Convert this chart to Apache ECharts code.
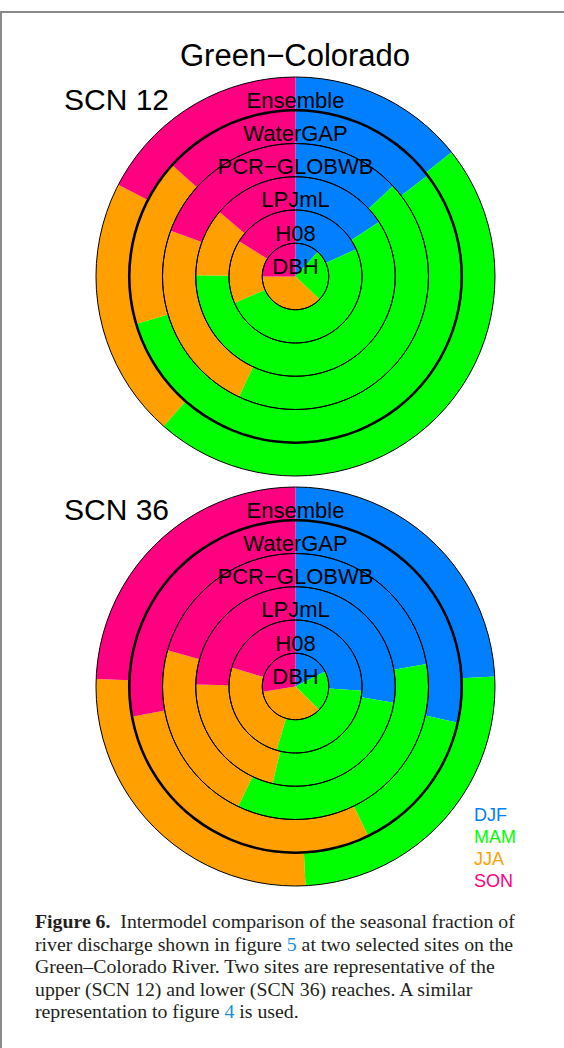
<!DOCTYPE html>
<html lang="en">
<head>
<meta charset="UTF-8">
<title>Green-Colorado</title>
<script src="https://cdn.jsdelivr.net/npm/echarts@6/dist/echarts.min.js"></script>
<style>
    body{margin:0;background:#fff;}
    #frame{position:absolute;left:0;top:11px;width:600px;height:1100px;border-left:2px solid #8a8a8a;border-top:2px solid #8a8a8a;}
    #chartmain{position:absolute;left:0;top:0;width:564px;height:900px;}
    #caption{position:absolute;left:35px;top:910px;width:525px;font-family:'Liberation Serif',serif;font-size:19.8px;line-height:22.6px;color:#231f20;white-space:nowrap;}
    #caption a{color:#1a8fd6;text-decoration:none;}
</style>
</head>
<body>
<div id="frame"></div>
<div id="chartmain"></div>
<div id="caption"><b>Figure 6.</b>&nbsp; Intermodel comparison of the seasonal fraction of<br>river discharge shown in figure <a>5</a> at two selected sites on the<br>Green–Colorado River. Two sites are representative of the<br>upper (SCN 12) and lower (SCN 36) reaches. A similar<br>representation to figure <a>4</a> is used.</div>
<script>
    // seasons, clockwise from 12 o'clock
    var seasons = ['DJF', 'MAM', 'JJA', 'SON'];
    var seasonColors = ['#0080ff', '#00ff00', '#ffa000', '#ff0080'];
    // rings from outside to inside
    var models = ['Ensemble', 'WaterGAP', 'PCR\u2212GLOBWB', 'LPJmL', 'H08', 'DBH'];

    // SCN 12 (upper reach), percent of annual discharge
    var scn12DJF = [14.3, 14.6, 13.1, 15.8, 18.3, 11.7];
    var scn12MAM = [47.2, 55.8, 43.9, 59.4, 50.2, 25.4];
    var scn12JJA = [21.1, 16.3, 23.6, 11.0, 15.4, 37.9];
    var scn12SON = [17.4, 13.3, 19.4, 13.8, 16.1, 25.0];

    // SCN 36 (lower reach)
    var scn36DJF = [24.2, 28.5, 22.3, 27.6, 26.0, 17.5];
    var scn36MAM = [25.0, 14.3, 34.8, 26.1, 28.6, 19.9];
    var scn36JJA = [26.4, 29.3, 22.3, 21.6, 25.0, 35.1];
    var scn36SON = [24.4, 27.9, 20.6, 24.7, 20.4, 27.5];

    var ringW = 33.25;
    var labelDrop = 9.5;   // names sit a little below the middle of their ring
    var font = 'Liberation Sans';

    function siteSeries(center, djf, mam, jja, son){
        var vals = [djf, mam, jja, son];
        var out = [];
        for(var i=0;i<models.length;i++){
            var k = models.length-1-i;
            var r0 = k*ringW, r1 = (k+1)*ringW;
            var data = [];
            for(var j=0;j<seasons.length;j++){
                data.push({name:seasons[j], value:vals[j][i], itemStyle:{color:seasonColors[j]}});
            }
            out.push({
                type:'pie', center:center, radius:[r0, r1],
                startAngle:90, clockwise:true, silent:true,
                label:{show:false}, labelLine:{show:false},
                itemStyle:{borderWidth:0},
                emphasis:{disabled:true},
                data:data
            });
            // ring outline
            out.push({
                type:'pie', center:center, radius:[r0, r1],
                silent:true, z:3,
                itemStyle:{color:'rgba(0,0,0,0)', borderColor:'#000', borderWidth:1},
                label:{show:false}, labelLine:{show:false},
                emphasis:{disabled:true},
                data:[{name:'ring', value:1}]
            });
            // model name at the top of the ring
            var lr = k === 0 ? [0, r1-2*labelDrop] : [r0-labelDrop, r1-labelDrop];
            out.push({
                type:'pie', center:center, radius:lr,
                startAngle:270, silent:true, z:5,
                itemStyle:{color:'rgba(0,0,0,0)', borderWidth:0},
                label:{show:true, position:'inside', rotate:0, color:'#000',
                    fontSize:22, fontFamily:font},
                labelLine:{show:false},
                emphasis:{disabled:true},
                data:[{name:models[i], value:1}]
            });
        }
        // heavier line around the ensemble ring
        out.push({
            type:'pie', center:center, radius:[5*ringW-1.3, 5*ringW+1.3],
            silent:true, z:4, itemStyle:{color:'#000'},
            label:{show:false}, labelLine:{show:false},
            emphasis:{disabled:true},
            data:[{name:'edge', value:1}]
        });
        return out;
    }

    var series = [].concat(
        siteSeries([295.5, 276.5], scn12DJF, scn12MAM, scn12JJA, scn12SON),
        siteSeries([295.5, 686.5], scn36DJF, scn36MAM, scn36JJA, scn36SON)
    );

    var legendData = seasons.map(function(s, j){
        return {name:s, textStyle:{color:seasonColors[j]}};
    });

    var option = {
        animation:false,
        title:[
            {text:'Green\u2212Colorado', left:175, top:35,
                textStyle:{fontFamily:font, fontSize:31, fontWeight:'normal', color:'#000'}},
            {text:'SCN 12', left:59, top:79,
                textStyle:{fontFamily:font, fontSize:30, fontWeight:'normal', color:'#000'}},
            {text:'SCN 36', left:59, top:489,
                textStyle:{fontFamily:font, fontSize:30, fontWeight:'normal', color:'#000'}}
        ],
        legend:{
            orient:'vertical', left:464, top:801,
            icon:'none', itemWidth:0, itemHeight:18, itemGap:4,
            selectedMode:false,
            textStyle:{fontFamily:font, fontSize:18},
            data:legendData
        },
        series:series
    };

    var myChart = echarts.init(document.getElementById('chartmain'), null, {renderer:'svg'});
    myChart.setOption(option);
</script>
</body>
</html>
